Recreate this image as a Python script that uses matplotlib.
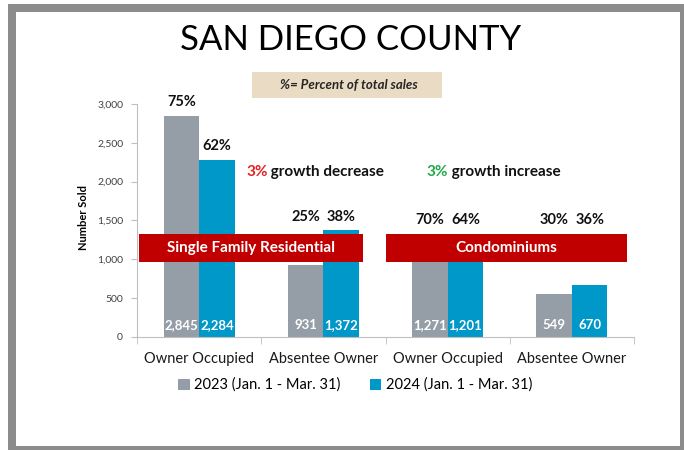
import matplotlib.pyplot as plt
from matplotlib.patches import Rectangle, Patch

plt.rcParams['font.family'] = ['Lato', 'DejaVu Sans']

categories = ["Owner Occupied", "Absentee Owner", "Owner Occupied", "Absentee Owner"]
sold_2023 = [2845, 931, 1271, 549]
sold_2024 = [2284, 1372, 1201, 670]
pct_2023 = ["75%", "25%", "70%", "30%"]
pct_2024 = ["62%", "38%", "64%", "36%"]
series_names = ["2023 (Jan. 1 - Mar. 31)", "2024 (Jan. 1 - Mar. 31)"]
yticks = [0, 500, 1000, 1500, 2000, 2500, 3000]

GRAY = "#959EA7"
BLUE = "#0097C9"
DARKRED = "#C00000"

fig = plt.figure(figsize=(6.84, 4.5), dpi=100)

# grey frame round the slide
fig.patches.append(Rectangle((8 / 684, 0), 676 / 684, 446 / 450, transform=fig.transFigure,
                             facecolor="#8C8C8C", edgecolor="none", zorder=-2))
fig.patches.append(Rectangle((16 / 684, 4 / 450), 664 / 684, 434 / 450, transform=fig.transFigure,
                             facecolor="white", edgecolor="none", zorder=-1))

fig.text(0.513, 0.910, "SAN DIEGO COUNTY", ha="center", va="center", fontsize=25)

fig.patches.append(Rectangle((252 / 684, (450 - 98) / 450), 190 / 684, 26 / 450,
                             transform=fig.transFigure, facecolor="#EADCC4", edgecolor="none"))
fig.text(349 / 684, (450 - 85) / 450, "%= Percent of total sales", ha="center", va="center",
         fontsize=9.5, fontweight="bold", fontstyle="italic", color="#262626")

ax = fig.add_axes([137 / 684, (450 - 337) / 450, 497 / 684, 233 / 450])
ax.set_facecolor("none")

x = list(range(len(categories)))
w = 0.286
bars1 = ax.bar([i - w / 2 for i in x], sold_2023, width=w, color=GRAY, zorder=2)
bars2 = ax.bar([i + w / 2 for i in x], sold_2024, width=w, color=BLUE, zorder=2)

ax.set_xlim(-0.5, 3.5)
ax.set_ylim(0, 3000)
ax.set_yticks(yticks)
ax.set_yticklabels([f"{v:,}" for v in yticks], fontsize=7.5, color="#404040")
ax.tick_params(axis="y", length=4, color="#BFBFBF", pad=6)

ax.set_xticks(x)
ax.set_xticklabels(categories, fontsize=10.5, color="#1a1a1a")
ax.tick_params(axis="x", which="major", length=0, pad=11)
ax.set_xticks([-0.5, 0.5, 1.5, 2.5, 3.5], minor=True)
ax.tick_params(axis="x", which="minor", length=5, color="#BFBFBF")

for side in ["top", "right"]:
    ax.spines[side].set_visible(False)
ax.spines["left"].set_color("#BFBFBF")
ax.spines["bottom"].set_color("#BFBFBF")

ax.set_ylabel("Number Sold", fontsize=8, fontweight="bold")
ax.yaxis.set_label_coords(-0.097, 0.515)

# value labels inside the bars
for bars in (bars1, bars2):
    for b in bars:
        ax.annotate(f"{int(b.get_height()):,}", (b.get_x() + b.get_width() / 2, 0),
                    xytext=(0, 8.6), textcoords="offset points", ha="center", va="center",
                    color="white", fontsize=9.5, fontweight="bold", zorder=4)

# banners across the two property types
banner_lo, banner_hi = 966, 1326
ax.add_patch(Rectangle((-0.484, banner_lo), 1.803, banner_hi - banner_lo,
                       facecolor=DARKRED, edgecolor="none", zorder=3, clip_on=False))
ax.add_patch(Rectangle((1.504, banner_lo), 1.94, banner_hi - banner_lo,
                       facecolor=DARKRED, edgecolor="none", zorder=3, clip_on=False))
mid = (banner_lo + banner_hi) / 2
ax.text(-0.484 + 1.803 / 2, mid, "Single Family Residential", ha="center", va="center",
        color="white", fontsize=11, fontweight="bold", zorder=4)
ax.text(1.504 + 1.94 / 2, mid, "Condominiums", ha="center", va="center",
        color="white", fontsize=11, fontweight="bold", zorder=4)

# percent labels
for i in x:
    for k, (bars, pct) in enumerate(((bars1, pct_2023), (bars2, pct_2024))):
        b = bars[i]
        if i == 0:
            base = b.get_height()
        else:
            base = max(sold_2023[i], sold_2024[i], banner_hi)
        ax.annotate(pct[i], (b.get_x() + b.get_width() / 2, base), xytext=(0, 10),
                    textcoords="offset points", ha="center", va="center",
                    fontsize=10.5, fontweight="bold", color="#111111",
                    annotation_clip=False)

# growth notes
t1 = ax.text(0.377, 2124, "3%", color="#E32222", fontsize=11, fontweight="bold",
             ha="left", va="center")
ax.annotate(" growth decrease", xy=(1, 0.5), xycoords=t1, ha="left", va="center",
            fontsize=11, fontweight="bold", color="#111111")
t2 = ax.text(1.826, 2124, "3%", color="#22AA4A", fontsize=11, fontweight="bold",
             ha="left", va="center")
ax.annotate(" growth increase", xy=(1, 0.5), xycoords=t2, ha="left", va="center",
            fontsize=11, fontweight="bold", color="#111111")

handles = [Patch(facecolor=GRAY, label=series_names[0]),
           Patch(facecolor=BLUE, label=series_names[1])]
fig.legend(handles=handles, loc="center", bbox_to_anchor=(355 / 684, (450 - 385) / 450),
           ncol=2, frameon=False, fontsize=10.5, handlelength=0.8, handleheight=0.8,
           handletextpad=0.3, columnspacing=2.0)

fig.savefig("out.png", dpi=100)
